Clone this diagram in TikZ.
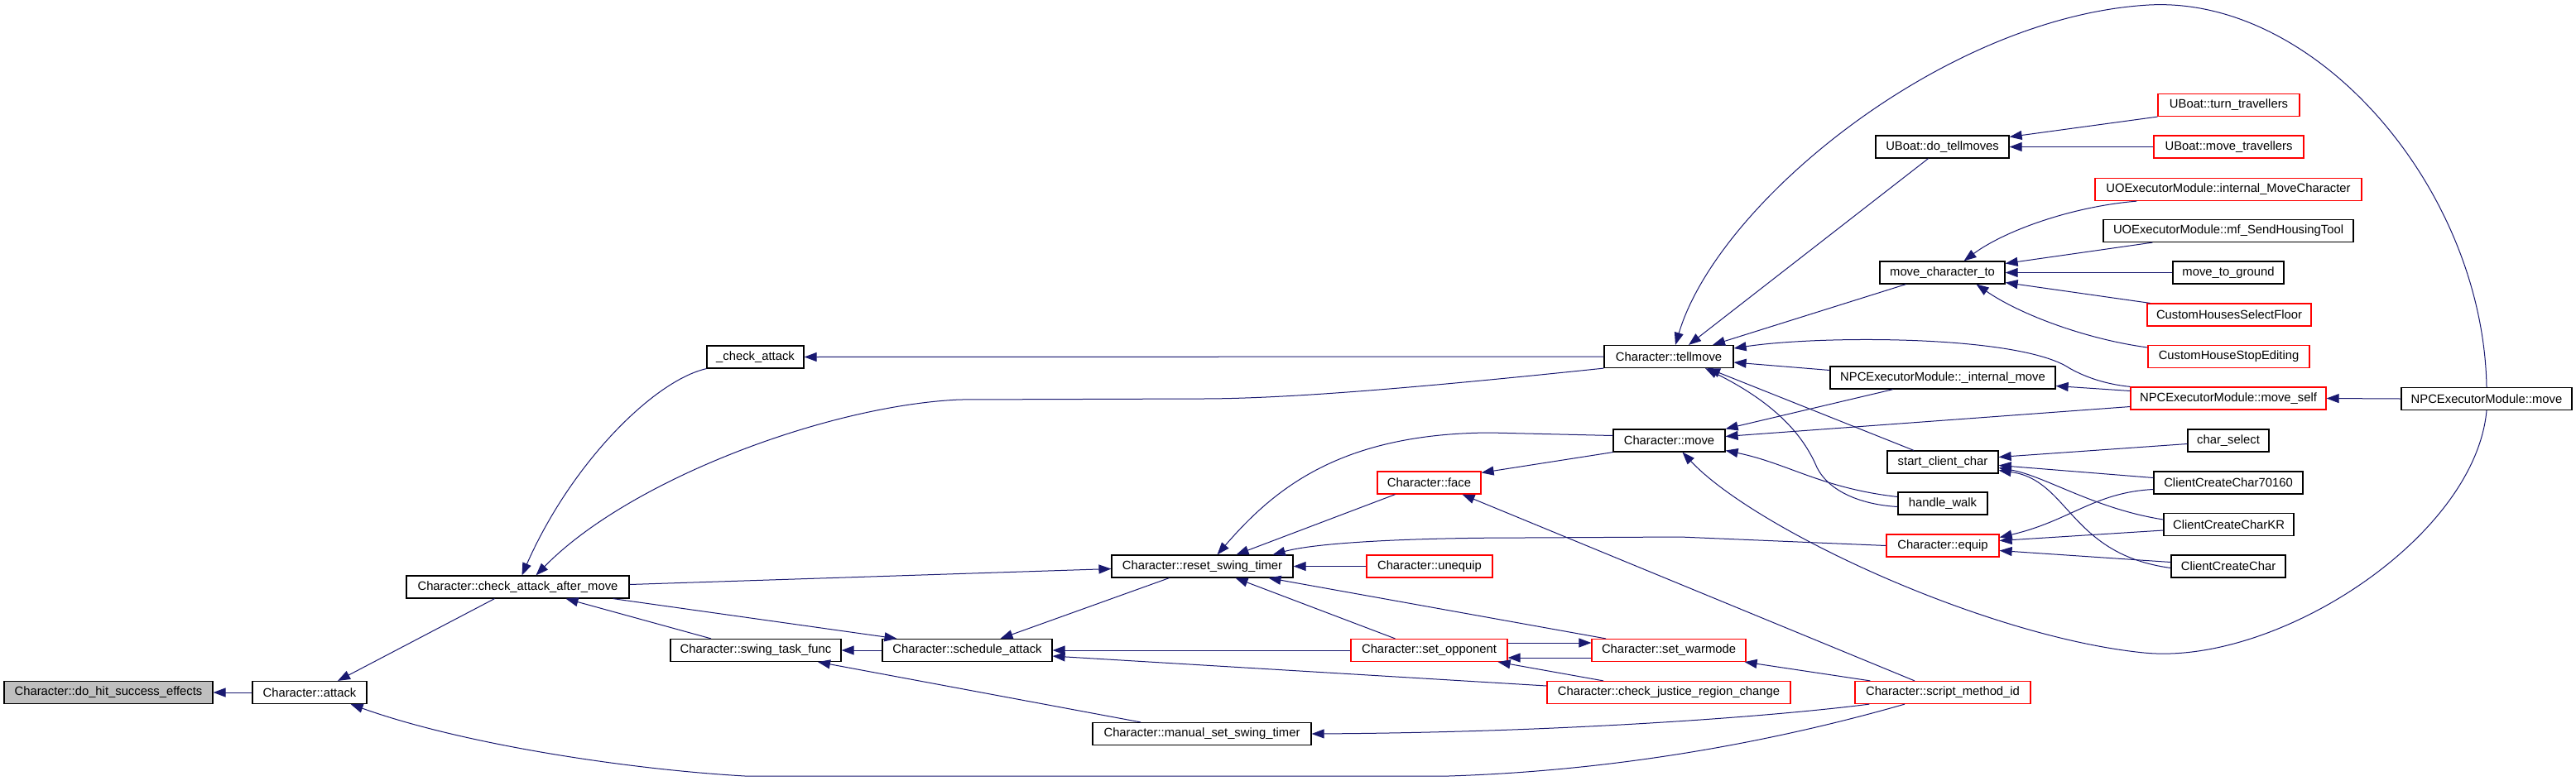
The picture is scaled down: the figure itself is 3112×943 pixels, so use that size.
\documentclass[tikz,border=0pt]{standalone}
\usepackage{fontspec}
\setmainfont{Liberation Sans}
\usetikzlibrary{arrows.meta}
\definecolor{edgec}{HTML}{191970}
\definecolor{redc}{HTML}{FF0000}
\definecolor{grayc}{HTML}{BFBFBF}
\begin{document}
\begin{tikzpicture}[x=1pt,y=-1pt,
  fn/.style={draw=black, line width=1.2pt, fill=white, inner sep=0pt, minimum height=27pt,
     font=\fontsize{14.8}{16}\selectfont, text=black},
  rfn/.style={fn, draw=redc},
  cedge/.style={draw=edgec, line width=1.0pt, {Triangle[length=15pt,width=11pt]}-}]
\fill[white] (0,0) rectangle (3112,943);
\useasboundingbox (0,0) rectangle (3112,943);
% nodes
\node[fn, fill=grayc, minimum width=252pt] (dohit) at (131,837) {Character::do\_hit\_success\_effects};
\node[fn, minimum width=138pt] (attack) at (374,837) {Character::attack};
\node[fn, minimum width=269pt] (catm) at (625.5,709.5) {Character::check\_attack\_after\_move};
\node[fn, minimum width=117pt] (chk) at (912.5,431.5) {\_check\_attack};
\node[fn, minimum width=156pt] (tellmove) at (2016,431) {Character::tellmove};
\node[fn, minimum width=219pt] (reset) at (1452.5,684.5) {Character::reset\_swing\_timer};
\node[rfn, minimum width=152pt] (unequip) at (1727,684.5) {Character::unequip};
\node[fn, minimum width=205pt] (sched) at (1168.5,786) {Character::schedule\_attack};
\node[fn, minimum width=206pt] (swing) at (913,786) {Character::swing\_task\_func};
\node[rfn, minimum width=189pt] (opp) at (1726.5,786) {Character::set\_opponent};
\node[rfn, minimum width=186pt] (warm) at (2016,786) {Character::set\_warmode};
\node[rfn, minimum width=294pt] (just) at (2016,837) {Character::check\_justice\_region\_change};
\node[fn, minimum width=264pt] (manual) at (1452,887) {Character::manual\_set\_swing\_timer};
\node[rfn, minimum width=125pt] (face) at (1726.5,583.5) {Character::face};
\node[fn, minimum width=135pt] (move) at (2016.5,532.5) {Character::move};
\node[fn, minimum width=161pt] (dtm) at (2346.5,177.5) {UBoat::do\_tellmoves};
\node[rfn, minimum width=171pt] (turn) at (2692.5,127) {UBoat::turn\_travellers};
\node[rfn, minimum width=181pt] (mtrav) at (2692.5,177.5) {UBoat::move\_travellers};
\node[rfn, minimum width=322pt] (imc) at (2692,229) {UOExecutorModule::internal\_MoveCharacter};
\node[fn, minimum width=302pt] (sht) at (2692,279) {UOExecutorModule::mf\_SendHousingTool};
\node[fn, minimum width=151pt] (mct) at (2346.5,329.5) {move\_character\_to};
\node[fn, minimum width=134pt] (mtg) at (2692,329.5) {move\_to\_ground};
\node[rfn, minimum width=198pt] (chsf) at (2693,380.5) {CustomHousesSelectFloor};
\node[rfn, minimum width=195pt] (chse) at (2692.5,431) {CustomHouseStopEditing};
\node[fn, minimum width=272pt] (imove) at (2347,456.5) {NPCExecutorModule::\_internal\_move};
\node[rfn, minimum width=236pt] (mself) at (2692,481.5) {NPCExecutorModule::move\_self};
\node[fn, minimum width=206pt] (npcmove) at (3004,482) {NPCExecutorModule::move};
\node[fn, minimum width=134pt] (start) at (2347,558.5) {start\_client\_char};
\node[fn, minimum width=98pt] (chsel) at (2692,532.5) {char\_select};
\node[fn, minimum width=180pt] (cc70) at (2692,583.5) {ClientCreateChar70160};
\node[fn, minimum width=108pt] (walk) at (2347,608.5) {handle\_walk};
\node[fn, minimum width=157pt] (cckr) at (2692.5,634) {ClientCreateCharKR};
\node[rfn, minimum width=136pt] (equip) at (2347,659.5) {Character::equip};
\node[fn, minimum width=138pt] (ccc) at (2692,684.5) {ClientCreateChar};
\node[rfn, minimum width=212pt] (script) at (2347,837) {Character::script\_method\_id};
% edges
\draw[cedge] (dohit.east) -- (attack.west);
\draw[cedge] ([xshift=34pt]attack.north) -- ([xshift=-28pt]catm.south);
\draw[cedge] ([xshift=-20pt]attack.south east) .. controls (560,900) and (760,930) .. (900,938) -- (1750,938) .. controls (2000,930) and (2200,880) .. ([xshift=-46pt]script.south);
\draw[cedge] ([xshift=5pt]catm.north) .. controls (690,560) and (790,460) .. (chk.south west);
\draw[cedge] ([xshift=22pt]catm.north) .. controls (760,580) and (1000,490) .. (1160,483) -- (1450,482) .. controls (1550,482) and (1700,470) .. (tellmove.south west);
\draw[cedge] (chk.east) -- (tellmove.west);
\draw[cedge] ([yshift=-3pt]reset.west) -- ([yshift=3pt]catm.east);
\draw[cedge] ([xshift=58pt]catm.south) -- ([xshift=-54pt]swing.north);
\draw[cedge] ([xshift=-85pt]sched.north) -- ([xshift=-20pt]catm.south east);
\draw[cedge] (swing.east) -- (sched.west);
\draw[cedge] ([xshift=75pt]swing.south) -- ([xshift=-74pt]manual.north);
\draw[cedge] ([xshift=40pt]sched.north) -- ([xshift=-40pt]reset.south);
\draw[cedge] (sched.east) -- (opp.west);
\draw[cedge] ([yshift=-7pt]sched.east) -- ([yshift=8pt]just.west);
\draw[cedge] (reset.east) -- (unequip.west);
\draw[cedge] ([xshift=40pt]reset.south) -- ([xshift=-41pt]opp.north);
\draw[cedge] ([xshift=80pt]reset.south) -- ([xshift=-76pt]warm.north);
\draw[cedge] ([xshift=41pt]reset.north) -- ([xshift=-41pt]face.south);
\draw[cedge] ([xshift=18pt]reset.north) .. controls (1540,590) and (1620,524) .. (1800,523) -- ([yshift=6pt]move.west);
\draw[cedge] ([xshift=-25pt]reset.north east) .. controls (1590,656) and (1700,650) .. (1840,650) -- (2030,649) -- (equip.west);
\draw[cedge] ([yshift=-2pt]face.north east) -- (move.south west);
\draw[cedge] ([xshift=40pt]face.south) -- ([xshift=-34pt]script.north);
\draw[cedge] ([xshift=16pt]move.south) .. controls (2120,640) and (2400,770) .. (2590,789) .. controls (2750,805) and (2990,650) .. (npcmove.south);
\draw[cedge] (move.north east) -- ([xshift=-60pt]imove.south);
\draw[cedge] ([yshift=5pt]move.east) -- ([yshift=-10pt]mself.west);
\draw[cedge] ([yshift=-12pt]move.east) .. controls (2160,560) and (2200,590) .. ([yshift=8pt]walk.west);
\draw[cedge] ([xshift=44pt]tellmove.south) .. controls (2150,490) and (2180,530) .. (2195,565) .. controls (2210,595) and (2250,610) .. ([yshift=-4pt]walk.west);
\draw[cedge] ([xshift=47pt]tellmove.south) -- ([xshift=-35pt]start.north);
\draw[cedge] ([yshift=-7pt]tellmove.east) -- ([yshift=9pt]imove.west);
\draw[cedge] ([yshift=10pt]tellmove.east) .. controls (2200,405) and (2440,405) .. (2500,445) .. controls (2530,462) and (2560,466) .. (mself.north west);
\draw[cedge] ([xshift=53pt]tellmove.north) -- ([xshift=-44pt]mct.south);
\draw[cedge] ([xshift=24pt]tellmove.north) -- ([xshift=-17pt]dtm.south);
\draw[cedge] ([xshift=8pt]tellmove.north) .. controls (2075,245) and (2350,20) .. (2596,6) .. controls (2800,-5) and (3000,230) .. (npcmove.north);
\draw[cedge] ([yshift=12pt]dtm.east) -- (turn.south west);
\draw[cedge] (dtm.east) -- (mtrav.west);
\draw[cedge] ([xshift=26pt]mct.north) .. controls (2420,280) and (2500,250) .. ([xshift=51pt]imc.south west);
\draw[cedge] ([yshift=11pt]mct.east) -- ([xshift=60pt]sht.south west);
\draw[cedge] (mct.east) -- (mtg.west);
\draw[cedge] ([yshift=-12pt]mct.east) -- ([xshift=4pt]chsf.north west);
\draw[cedge] ([xshift=41pt]mct.south) .. controls (2440,380) and (2520,410) .. ([yshift=11pt]chse.west);
\draw[cedge] ([yshift=-10pt]imove.east) -- ([yshift=9pt]mself.west);
\draw[cedge] (mself.east) -- (npcmove.west);
\draw[cedge] ([yshift=6pt]start.east) -- ([yshift=-4pt]chsel.west);
\draw[cedge] ([yshift=-4pt]start.east) -- ([yshift=6pt]cc70.west);
\draw[cedge] ([yshift=-7pt]start.east) .. controls (2470,575) and (2530,615) .. ([yshift=6pt]cckr.west);
\draw[cedge] ([yshift=-10pt]start.east) .. controls (2500,580) and (2500,670) .. ([yshift=-2pt]ccc.west);
\draw[cedge] ([yshift=10pt]equip.east) .. controls (2500,630) and (2530,595) .. ([yshift=-8pt]cc70.west);
\draw[cedge] ([yshift=6pt]equip.east) -- ([yshift=-7pt]cckr.west);
\draw[cedge] ([yshift=-6pt]equip.east) -- ([yshift=5pt]ccc.west);
\draw[cedge] ([yshift=9pt]warm.west) -- ([yshift=9pt]opp.east);
\draw[cedge] ([yshift=-9pt]opp.east) -- ([yshift=-9pt]warm.west);
\draw[cedge] ([xshift=-12pt]opp.south east) -- ([xshift=-79pt]just.north);
\draw[cedge] ([xshift=-2pt]warm.south east) -- ([xshift=19pt]script.north west);
\draw[cedge] (manual.east) .. controls (1900,885) and (2150,865) .. ([xshift=18pt]script.south west);
\end{tikzpicture}
\end{document}
